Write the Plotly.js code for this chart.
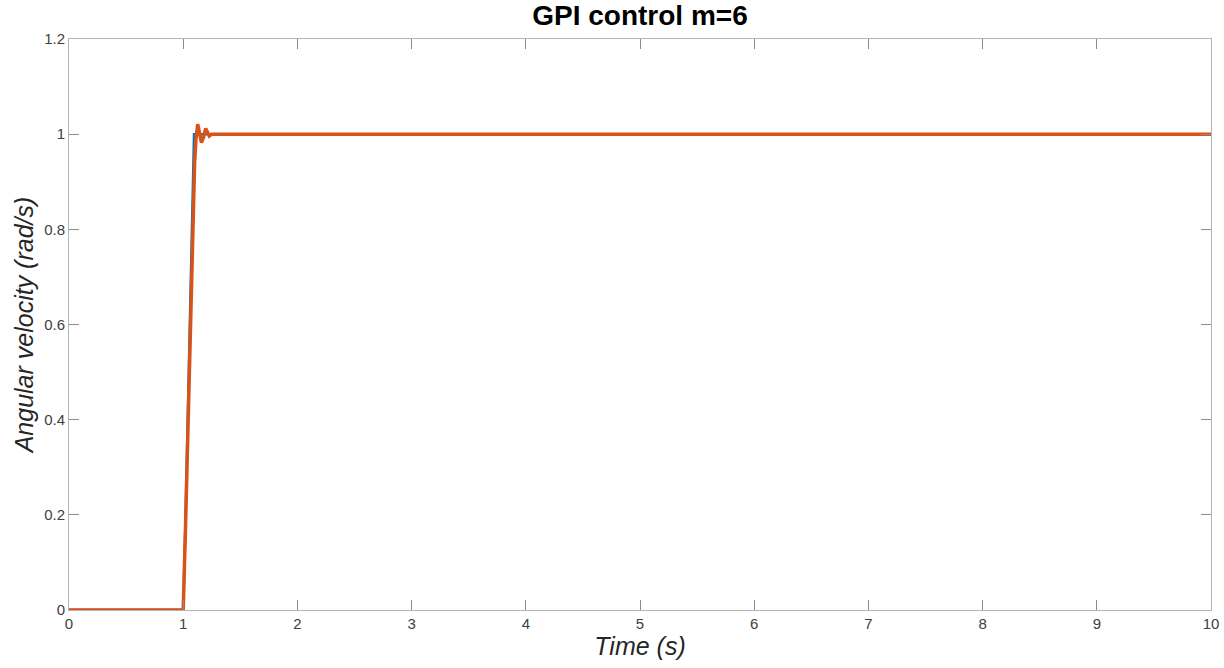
<!DOCTYPE html>
<html>
<head>
<meta charset="utf-8">
<script src="https://cdn.plot.ly/plotly-3.0.1.min.js"></script>
<style>html,body{margin:0;padding:0;background:#fff;}#chart{width:1224px;height:668px;}</style>
</head>
<body>
<div id="chart"></div>
<script>
// Reference trajectory (blue)
var refTime = [0, 1.0, 1.02, 1.04, 1.06, 1.08, 1.095, 10];
var refVel  = [0, 0,   0.19, 0.39, 0.60, 0.81, 1.00,  1.00];
// GPI controlled response (orange)
var outTime = [0, 1.0, 1.02, 1.04, 1.06, 1.08, 1.10, 1.112, 1.127, 1.145, 1.16, 1.18, 1.197, 1.215, 1.229, 1.25, 1.28, 1.35, 10];
var outVel  = [0, 0,   0.17, 0.36, 0.56, 0.76, 0.94, 0.99,  1.021, 1.000, 0.982, 0.995, 1.012, 1.003, 0.996, 1.000, 1.000, 1.000, 1.000];
var xTicks = [0,1,2,3,4,5,6,7,8,9,10];
var yTicks = [0,0.2,0.4,0.6,0.8,1,1.2];

var font = "Liberation Sans, Arial, Helvetica, sans-serif";
var traces = [
  {x: refTime, y: refVel, mode: 'lines', line: {color: '#0072BD', width: 2.5}, hoverinfo: 'skip'},
  {x: outTime, y: outVel, mode: 'lines', line: {color: '#D95319', width: 3.5}, hoverinfo: 'skip'}
];
var axisCommon = {
  showgrid: false, zeroline: false, showline: true, linecolor: '#b4b4b4', linewidth: 1,
  mirror: 'ticks', ticks: 'inside', ticklen: 10, tickwidth: 1, tickcolor: '#8c8c8c',
  tickfont: {family: font, size: 15, color: '#404040'}
};
var layout = {
  width: 1224, height: 668,
  margin: {l: 69, r: 13, t: 39, b: 58},
  paper_bgcolor: '#ffffff', plot_bgcolor: '#ffffff',
  showlegend: false,
  title: {text: '<b>GPI control m=6</b>', x: 0.5, xref: 'paper', xanchor: 'center', y: 0.977, yanchor: 'middle', font: {family: font, size: 28, color: '#000000'}},
  xaxis: Object.assign({}, axisCommon, {
    range: [0, 10], tickvals: xTicks, ticktext: xTicks.map(String),
    title: {text: '<i>Time (s)</i>', standoff: 6, font: {family: font, size: 25, color: '#262626'}}
  }),
  yaxis: Object.assign({}, axisCommon, {
    range: [0, 1.2], tickvals: yTicks, ticktext: yTicks.map(String),
    title: {text: '<i>Angular velocity (rad/s)</i>', standoff: 3, font: {family: font, size: 25, color: '#262626'}}
  })
};
Plotly.newPlot('chart', traces, layout, {staticPlot: true});
</script>
</body>
</html>
